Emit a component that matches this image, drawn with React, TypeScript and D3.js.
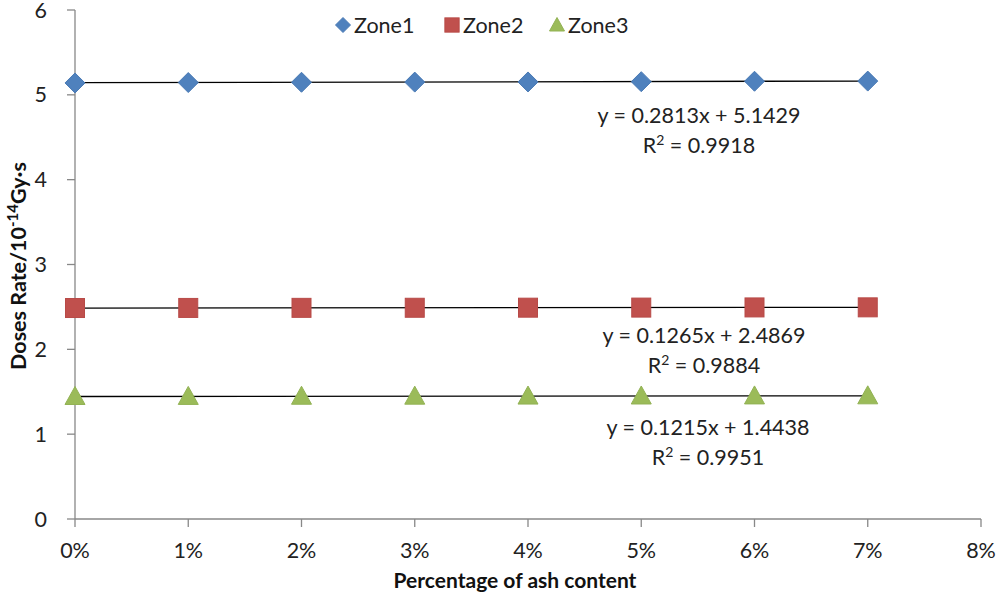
import React from "react";
import * as d3 from "d3";

const xTicks = [0, 0.01, 0.02, 0.03, 0.04, 0.05, 0.06, 0.07, 0.08];
const yTicks = [0, 1, 2, 3, 4, 5, 6];
const xValues = [0, 0.01, 0.02, 0.03, 0.04, 0.05, 0.06, 0.07];
const zone1 = [5.14, 5.145, 5.148, 5.15, 5.152, 5.155, 5.16, 5.162];
const zone2 = [2.487, 2.488, 2.489, 2.49, 2.491, 2.492, 2.494, 2.495];
const zone3 = [1.444, 1.445, 1.447, 1.448, 1.449, 1.45, 1.451, 1.452];
const seriesNames = ["Zone1", "Zone2", "Zone3"];
const slopes = [0.2813, 0.1265, 0.1215];
const intercepts = [5.1429, 2.4869, 1.4438];
const r2s = ["0.9918", "0.9884", "0.9951"];
const colors = ["#4F81BD", "#C0504D", "#9BBB59"];
const strokes = ["#4A7AB5", "#B84A47", "#92B254"];
const eqPos = [[699, 123], [704, 343], [708, 435]];
const legendX = [343, 452, 557];

const W = 997, H = 600;
const x = d3.scaleLinear().domain([0, 0.08]).range([75, 981]);
const y = d3.scaleLinear().domain([0, 6]).range([519, 10]);
const font = "Lato, 'Open Sans', sans-serif";
const FS = 21.5;

function Marker({ kind, cx, cy, i, k = 1 }: { kind: number; cx: number; cy: number; i: number; k?: number }) {
  if (kind === 0) {
    const s = 10 * k;
    return <path d={`M${cx},${cy - s}L${cx + s},${cy}L${cx},${cy + s}L${cx - s},${cy}Z`} fill={colors[i]} stroke={strokes[i]} strokeWidth={1} />;
  }
  if (kind === 1) {
    const s = 9.5 * k;
    return <rect x={cx - s} y={cy - s} width={2 * s} height={2 * s} fill={colors[i]} stroke={strokes[i]} strokeWidth={1} />;
  }
  const s = 10 * k;
  return <path d={`M${cx},${cy - s}L${cx + s},${cy + s * 0.8}L${cx - s},${cy + s * 0.8}Z`} fill={colors[i]} stroke={strokes[i]} strokeWidth={1} />;
}

export default function App() {
  const data = [zone1, zone2, zone3];
  const fmt = d3.format(".0%");
  return (
    <svg width={W} height={H} style={{ position: "absolute", left: 0, top: 0, background: "#fff" }} fontFamily={font}>
      <line x1={x(0)} x2={x(0)} y1={y(6)} y2={y(0)} stroke="#888" strokeWidth={1.3} />
      <line x1={x(0)} x2={x(0.08)} y1={y(0)} y2={y(0)} stroke="#888" strokeWidth={1.3} />
      {yTicks.map((t) => (
        <g key={"y" + t}>
          <line x1={x(0) - 8} x2={x(0)} y1={y(t)} y2={y(t)} stroke="#888" strokeWidth={1.3} />
          <text x={47} y={y(t) + 7.5} textAnchor="end" fontSize={FS} fill="#222">{t}</text>
        </g>
      ))}
      {xTicks.map((t) => (
        <g key={"x" + t}>
          <line x1={x(t)} x2={x(t)} y1={y(0)} y2={y(0) + 8} stroke="#888" strokeWidth={1.3} />
          <text x={x(t)} y={558} textAnchor="middle" fontSize={FS} fill="#222">{fmt(t)}</text>
        </g>
      ))}
      <text x={515} y={588} textAnchor="middle" fontSize={21} fontWeight="bold" fill="#111">Percentage of ash content</text>
      <text transform={`translate(26,${266}) rotate(-90)`} textAnchor="middle" fontSize={21.5} fontWeight="bold" fill="#111">
        Doses Rate/10<tspan dy={-8} fontSize={15}>-14</tspan><tspan dy={8}>Gy·s</tspan>
      </text>
      {slopes.map((m, i) => (
        <line key={"t" + i} x1={x(0)} x2={x(0.07)} y1={y(intercepts[i])} y2={y(intercepts[i] + m * 0.07)} stroke="#000" strokeWidth={1.3} />
      ))}
      {data.map((vals, i) => (
        <g key={"s" + i}>
          {vals.map((v, j) => <Marker key={j} kind={i} cx={x(xValues[j])} cy={y(v)} i={i} />)}
        </g>
      ))}
      {slopes.map((m, i) => (
        <g key={"e" + i}>
          <text x={eqPos[i][0]} y={eqPos[i][1]} textAnchor="middle" fontSize={FS} fill="#222">
            {`y = ${m.toFixed(4)}x + ${intercepts[i].toFixed(4)}`}
          </text>
          <text x={eqPos[i][0]} y={eqPos[i][1] + 30} textAnchor="middle" fontSize={FS} fill="#222">
            R<tspan dy={-8} fontSize={14}>2</tspan><tspan dy={8}>{` = ${r2s[i]}`}</tspan>
          </text>
        </g>
      ))}
      {seriesNames.map((n, i) => (
        <g key={"l" + i}>
          <Marker kind={i} cx={legendX[i]} cy={25} i={i} k={0.75} />
          <text x={legendX[i] + 11} y={33} fontSize={FS} fill="#222">{n}</text>
        </g>
      ))}
    </svg>
  );
}
